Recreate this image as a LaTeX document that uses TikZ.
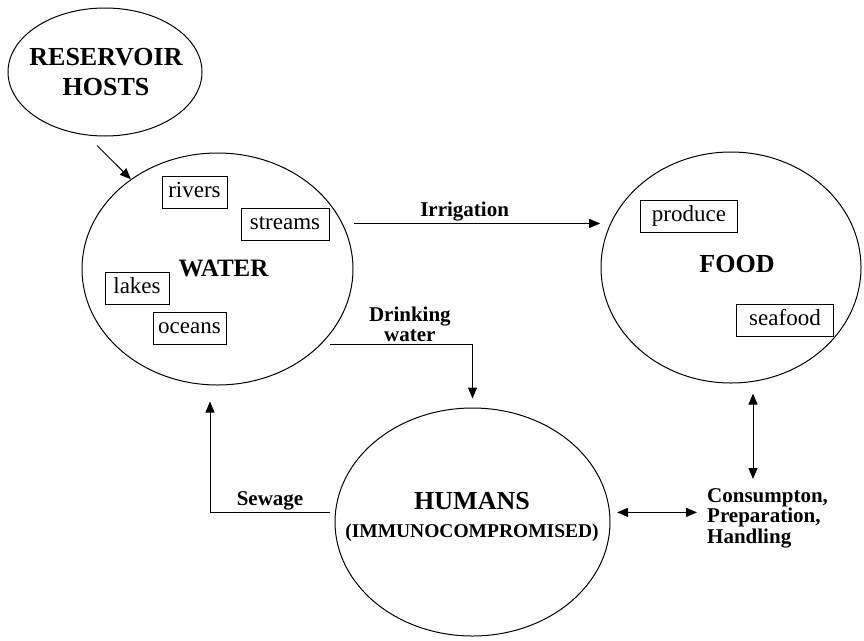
\documentclass[tikz,border=0pt]{standalone}
\usepackage{fontspec}
\setmainfont{Liberation Serif}
\usetikzlibrary{shapes.geometric,arrows.meta}

\tikzset{
  blob/.style={draw, ellipse, line width=1pt, inner sep=0pt},
  item/.style={draw, line width=0.8pt, inner xsep=3pt, inner ysep=5.7pt,
    minimum height=32pt, text height=15.5pt, text depth=5pt,
    font=\fontsize{23}{26}\selectfont},
  head/.style={font=\fontsize{26}{30}\selectfont\bfseries, inner sep=0pt, align=center},
  flow/.style={font=\fontsize{21}{20.5}\selectfont\bfseries, inner sep=2pt, align=center},
  arr/.style={line width=1pt, -{Triangle[length=11pt,width=9pt]}},
  dbl/.style={line width=1pt, {Triangle[length=11pt,width=9pt]}-{Triangle[length=11pt,width=9pt]}}
}

\begin{document}
\begin{tikzpicture}[x=1pt,y=-1pt]
  \useasboundingbox (0,0) rectangle (864,640);
  % the four ellipses
  \node[blob, minimum width=194pt, minimum height=128pt] (res) at (105,72) {};
  \node[blob, minimum width=271pt, minimum height=232pt] (water) at (217.5,269) {};
  \node[blob, minimum width=260pt, minimum height=231pt] (food) at (731,267.5) {};
  \node[blob, minimum width=275pt, minimum height=228pt] (humans) at (472.5,522) {};
  % their titles
  \node[head] (reslbl) at (106,72) {RESERVOIR\\HOSTS};
  \node[head, font=\fontsize{25}{30}\selectfont\bfseries] (waterlbl) at (223.5,268.5) {WATER};
  \node[head] (foodlbl) at (737,264.5) {FOOD};
  \node[head] (humanslbl) at (472,501) {HUMANS};
  \node[head, anchor=base, font=\fontsize{19.5}{22}\selectfont\bfseries] (immlbl) at (472,537) {(IMMUNOCOMPROMISED)};
  % kinds of water
  \node[item, minimum width=65pt] (rivers) at (194.5,192) {rivers};
  \node[item, minimum width=88pt] (streams) at (285,224.5) {streams};
  \node[item, minimum width=64pt] (lakes) at (137,288) {lakes};
  \node[item, minimum width=73pt] (oceans) at (189.5,328) {oceans};
  % kinds of food
  \node[item, minimum width=97pt] (produce) at (689,216.5) {produce};
  \node[item, minimum width=97pt] (seafood) at (785,320) {seafood};
  % consumption text
  \node[flow, align=left, anchor=north west, inner sep=0pt] (cons) at (707,488)
    {Consumpton,\\Preparation,\\Handling};
  % reservoir into water
  \draw[arr] ([xshift=-8pt,yshift=-9pt]res.south) -- (water.134);
  % irrigation
  \draw[arr] ([xshift=11pt]water.20) -- ([xshift=-10pt]food.160 |- water.20)
    node[flow, above, pos=0.45] (irr) {Irrigation};
  % drinking water
  \draw[arr] ([xshift=9pt]water.-36) -| ([yshift=9pt]humans.north)
    node[flow, above, pos=0.28] (drink) {Drinking\\water};
  % sewage
  \draw[arr] ([xshift=-5pt]humans.176) -| ([xshift=-7.5pt,yshift=-16pt]water.south)
    node[flow, above, pos=0.25] (sewage) {Sewage};
  % food and humans to handling
  \draw[dbl] ([xshift=22pt,yshift=-10pt]food.south) -- ([xshift=22pt,yshift=9pt]food.south |- cons.north);
  \draw[dbl] ([xshift=7pt]humans.4) -- ([xshift=-10pt]cons.west |- humans.4);
\end{tikzpicture}
\end{document}
